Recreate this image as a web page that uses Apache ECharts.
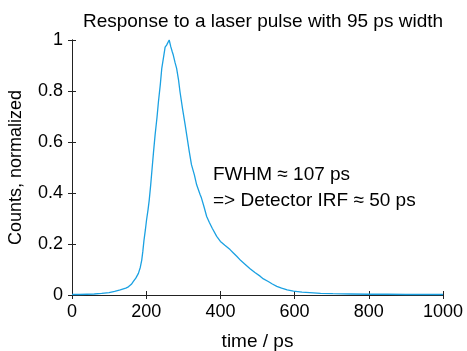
<!DOCTYPE html>
<html>
<head>
<meta charset="utf-8">
<script src="https://cdn.jsdelivr.net/npm/echarts@6/dist/echarts.min.js"></script>
<style>
  html, body { margin: 0; padding: 0; background: #fff; }
  #chart { width: 467px; height: 351px; }
</style>
</head>
<body>
<div id="chart"></div>
<script>
// time axis (ps) and normalized counts
const times = [0, 20, 40, 60, 80, 100, 115, 130, 145, 152, 160, 165, 172, 179, 184, 188, 191, 194, 198, 201,
  205, 208, 212, 216, 220, 224, 229, 233, 238, 242, 247, 251, 255, 258, 262, 266, 270, 273, 278, 282,
  287, 291, 298, 305, 310, 316, 322, 330, 336, 345, 349, 356, 363, 370, 378, 390, 400, 412, 426, 435,
  444, 455, 467, 480, 493, 507, 516, 529, 540, 552, 565, 580, 597, 620, 641, 670, 703, 750, 800, 850,
  900, 950, 1000];
const counts = [0.002, 0.002, 0.003, 0.004, 0.006, 0.009, 0.014, 0.02, 0.027, 0.032, 0.042, 0.052, 0.066, 0.085, 0.108, 0.137, 0.172, 0.214, 0.258, 0.295,
  0.335, 0.37, 0.43, 0.498, 0.565, 0.628, 0.695, 0.758, 0.825, 0.889, 0.935, 0.972, 0.98, 0.985, 1.0, 0.975, 0.955, 0.941, 0.91, 0.889,
  0.845, 0.798, 0.73, 0.667, 0.62, 0.563, 0.511, 0.47, 0.432, 0.395, 0.38, 0.345, 0.308, 0.285, 0.262, 0.23, 0.21, 0.195, 0.178, 0.165,
  0.152, 0.135, 0.12, 0.103, 0.088, 0.074, 0.063, 0.053, 0.043, 0.034, 0.027, 0.02, 0.015, 0.011, 0.009, 0.006, 0.005, 0.004, 0.003, 0.003,
  0.002, 0.002, 0.002];
const xTicks = [0, 200, 400, 600, 800, 1000];
const yTicks = [0, 0.2, 0.4, 0.6, 0.8, 1];
const notes = ["FWHM \u2248 107 ps", "=> Detector IRF \u2248 50 ps"];

const font = "'Liberation Sans', Arial, sans-serif";
const axisColor = "#222";

const chart = echarts.init(document.getElementById("chart"));

const baseX = {
  type: "value",
  min: xTicks[0],
  max: xTicks[xTicks.length - 1],
  interval: xTicks[1] - xTicks[0],
  axisLine: { show: true, lineStyle: { color: axisColor, width: 1 } },
  axisTick: { show: true, inside: true, length: 4, lineStyle: { color: axisColor } },
  splitLine: { show: false },
};
const baseY = {
  type: "value",
  min: yTicks[0],
  max: yTicks[yTicks.length - 1],
  interval: yTicks[1] - yTicks[0],
  axisLine: { show: true, lineStyle: { color: axisColor, width: 1 } },
  axisTick: { show: true, inside: true, length: 4, lineStyle: { color: axisColor } },
  splitLine: { show: false },
};

chart.setOption({
  animation: false,
  textStyle: { fontFamily: font },
  title: {
    text: "Response to a laser pulse with 95 ps width",
    left: 258,
    top: 7,
    textAlign: "center",
    textStyle: { fontFamily: font, fontSize: 19, fontWeight: "normal", color: "#000" },
  },
  grid: { left: 72, right: 24, top: 40, bottom: 56, outerBoundsMode: "none", containLabel: false },
  xAxis: [
    {
      ...baseX,
      position: "bottom",
      name: "time / ps",
      nameLocation: "middle",
      nameGap: 37,
      nameTextStyle: { fontFamily: font, fontSize: 19, color: "#000" },
      axisLabel: {
        fontFamily: font, fontSize: 18, color: "#000", margin: 8,
        formatter: (v) => String(v),
      },
    },
    { ...baseX, position: "top", axisLabel: { show: false } },
  ],
  yAxis: [
    {
      ...baseY,
      position: "left",
      name: "Counts, normalized",
      nameLocation: "middle",
      nameGap: 47,
      nameTextStyle: { fontFamily: font, fontSize: 18, color: "#000" },
      axisLabel: {
        fontFamily: font, fontSize: 18, color: "#000", margin: 9,
        formatter: (v) => String(Math.round(v * 10) / 10),
      },
    },
    { ...baseY, position: "right", axisLabel: { show: false } },
  ],
  series: [
    {
      type: "line",
      data: times.map((t, i) => [t, counts[i]]),
      showSymbol: false,
      lineStyle: { color: "#1ba1e2", width: 1.3 },
      z: 3,
    },
  ],
  graphic: notes.map((txt, i) => ({
    type: "text",
    left: 213,
    top: 165 + i * 26.5,
    style: { text: txt, fontFamily: font, fontSize: 19, fill: "#000" },
  })),
});
</script>
</body>
</html>
